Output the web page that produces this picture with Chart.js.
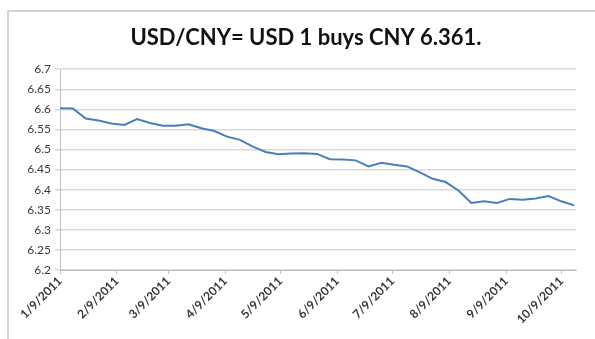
<!DOCTYPE html>
<html>
<head>
<meta charset="utf-8">
<script src="https://cdn.jsdelivr.net/npm/chart.js@4.4.0/dist/chart.umd.min.js"></script>
<style>
  html, body { margin: 0; padding: 0; background: #fff; }
  body { width: 595px; height: 339px; position: relative; overflow: hidden; }
  .frame { position: absolute; left: 7px; top: 10px; width: 620px; height: 360px;
           border-left: 2px solid #d4d4d4; border-top: 2px solid #d4d4d4; }
  canvas { position: absolute; left: 0; top: 0; }
</style>
</head>
<body>
<div class="frame"></div>
<canvas id="fx" width="595" height="339"></canvas>
<script>
const titleText = 'USD/CNY= USD 1 buys CNY 6.361.';
const startDate = '2011-01-09';
// weekly closes, Jan 9 2011 .. Oct 16 2011
const rates = [
  6.603, 6.602, 6.577, 6.572, 6.565, 6.561, 6.576, 6.566, 6.559, 6.559,
  6.563, 6.553, 6.546, 6.532, 6.524, 6.507, 6.494, 6.488, 6.490, 6.491,
  6.489, 6.476, 6.475, 6.473, 6.458, 6.467, 6.462, 6.458, 6.443, 6.427,
  6.419, 6.398, 6.367, 6.371, 6.367, 6.377, 6.375, 6.378, 6.384, 6.371,
  6.361
];
const tickDates = ['2011-01-09', '2011-02-09', '2011-03-09', '2011-04-09', '2011-05-09',
  '2011-06-09', '2011-07-09', '2011-08-09', '2011-09-09', '2011-10-09'];
const tickLabels = ['1/9/2011', '2/9/2011', '3/9/2011', '4/9/2011', '5/9/2011',
  '6/9/2011', '7/9/2011', '8/9/2011', '9/9/2011', '10/9/2011'];
const yTicks = [6.2, 6.25, 6.3, 6.35, 6.4, 6.45, 6.5, 6.55, 6.6, 6.65, 6.7];

const DAY = 86400000;
const t0 = Date.parse(startDate);
const dayOf = d => Math.round((Date.parse(d) - t0) / DAY);
const tickDays = tickDates.map(dayOf);
const points = rates.map((v, i) => ({ x: i * 7, y: v }));

// nudge the title so it sits centred like the spreadsheet one
const titleShift = {
  id: 'titleShift',
  beforeDraw(chart) {
    if (chart.titleBlock) chart.titleBlock.left = 36;
  }
};

new Chart(document.getElementById('fx'), {
  type: 'line',
  data: {
    datasets: [{
      data: points,
      borderColor: '#4a7ebb',
      borderWidth: 2,
      pointRadius: 0,
      tension: 0
    }]
  },
  options: {
    responsive: false,
    animation: false,
    layout: { padding: { left: 0, right: 19, top: 0, bottom: 0 } },
    plugins: {
      legend: { display: false },
      tooltip: { enabled: false },
      title: {
        display: true,
        text: titleText,
        color: '#111',
        font: { family: 'Lato', size: 22, weight: 'bold', lineHeight: 1.1 },
        padding: { top: 26, bottom: 19 }
      }
    },
    scales: {
      x: {
        type: 'linear',
        min: 0,
        max: 281,
        afterBuildTicks: s => { s.ticks = tickDays.map(v => ({ value: v })); },
        afterFit: s => { s.height = 69; },
        ticks: {
          autoSkip: false,
          minRotation: 45,
          maxRotation: 45,
          color: '#3a3a3a',
          font: { family: 'Lato', size: 12, weight: 'bold' },
          padding: 0,
          callback: (v, i) => tickLabels[i]
        },
        grid: { drawOnChartArea: false, color: '#bfbfbf', tickLength: 4 },
        border: { color: '#bfbfbf', width: 1 }
      },
      y: {
        min: 6.2,
        max: 6.7,
        afterBuildTicks: s => { s.ticks = yTicks.map(v => ({ value: v })); },
        afterFit: s => { s.width = 60; },
        ticks: {
          color: '#3a3a3a',
          font: { family: 'Lato', size: 12 },
          padding: 4,
          callback: v => String(+v.toFixed(2))
        },
        grid: { color: '#d9d9d9', lineWidth: 1.5, tickLength: 5 },
        border: { color: '#bfbfbf', width: 1 }
      }
    }
  },
  plugins: [titleShift]
});
</script>
</body>
</html>
